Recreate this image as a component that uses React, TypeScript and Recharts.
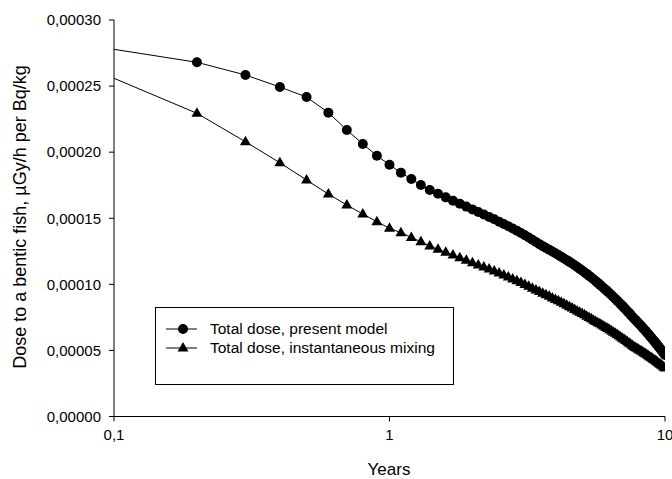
import { LineChart, Line, XAxis, YAxis, Label } from 'recharts';

// time points (years)
const YEARS = [
  0.1, 0.2, 0.3, 0.4, 0.5, 0.6, 0.7, 0.8, 0.9, 1.0,
  1.1, 1.2, 1.3, 1.4, 1.5, 1.6, 1.7, 1.8, 1.9, 2.0,
  2.1, 2.2, 2.3, 2.4, 2.5, 2.6, 2.7, 2.8, 2.9, 3.0,
  3.1, 3.2, 3.3, 3.4, 3.5, 3.6, 3.7, 3.8, 3.9, 4.0,
  4.1, 4.2, 4.3, 4.4, 4.5, 4.6, 4.7, 4.8, 4.9, 5.0,
  5.1, 5.2, 5.3, 5.4, 5.5, 5.6, 5.7, 5.8, 5.9, 6.0,
  6.1, 6.2, 6.3, 6.4, 6.5, 6.6, 6.7, 6.8, 6.9, 7.0,
  7.1, 7.2, 7.3, 7.4, 7.5, 7.6, 7.7, 7.8, 7.9, 8.0,
  8.1, 8.2, 8.3, 8.4, 8.5, 8.6, 8.7, 8.8, 8.9, 9.0,
  9.1, 9.2, 9.3, 9.4, 9.5, 9.6, 9.7, 9.8, 9.9, 10.0,
];

// dose values in units of 1e-5 µGy/h per Bq/kg
const PRESENT_MODEL = [
  27.78, 26.80, 25.84, 24.93, 24.17, 22.99, 21.68, 20.62, 19.73, 19.05,
  18.45, 17.97, 17.52, 17.14, 16.85, 16.58, 16.33, 16.10, 15.88, 15.67,
  15.47, 15.28, 15.10, 14.92, 14.74, 14.56, 14.39, 14.22, 14.05, 13.88,
  13.71, 13.54, 13.37, 13.20, 13.04, 12.89, 12.75, 12.61, 12.48, 12.35,
  12.22, 12.09, 11.96, 11.83, 11.70, 11.57, 11.44, 11.31, 11.18, 11.05,
  10.92, 10.79, 10.65, 10.52, 10.38, 10.25, 10.11, 9.98, 9.84, 9.71,
  9.58, 9.44, 9.31, 9.17, 9.04, 8.91, 8.77, 8.64, 8.50, 8.37,
  8.24, 8.10, 7.97, 7.84, 7.70, 7.57, 7.44, 7.32, 7.20, 7.08,
  6.96, 6.84, 6.72, 6.60, 6.48, 6.35, 6.23, 6.11, 5.99, 5.87,
  5.75, 5.63, 5.50, 5.38, 5.26, 5.14, 5.02, 4.90, 4.77, 4.65,
];

const INSTANT_MIXING = [
  25.59, 22.94, 20.79, 19.20, 17.89, 16.83, 16.00, 15.32, 14.74, 14.24,
  13.91, 13.55, 13.22, 12.90, 12.65, 12.42, 12.21, 12.01, 11.82, 11.64,
  11.47, 11.31, 11.16, 11.01, 10.86, 10.71, 10.56, 10.41, 10.27, 10.13,
  9.99, 9.85, 9.71, 9.57, 9.45, 9.33, 9.21, 9.09, 8.97, 8.86,
  8.75, 8.64, 8.53, 8.42, 8.31, 8.20, 8.09, 7.99, 7.89, 7.79,
  7.69, 7.59, 7.49, 7.39, 7.29, 7.19, 7.10, 7.01, 6.92, 6.83,
  6.74, 6.65, 6.56, 6.47, 6.38, 6.29, 6.20, 6.11, 6.02, 5.93,
  5.84, 5.75, 5.66, 5.57, 5.48, 5.39, 5.30, 5.23, 5.16, 5.09,
  5.02, 4.95, 4.88, 4.81, 4.74, 4.67, 4.60, 4.53, 4.46, 4.39,
  4.32, 4.25, 4.18, 4.10, 4.03, 3.96, 3.89, 3.82, 3.74, 3.67,
];

const SERIES_NAMES = ['Total dose, present model', 'Total dose, instantaneous mixing'];
const X_TICKS = [0.1, 1, 10];
const Y_TICKS = [0, 0.00005, 0.0001, 0.00015, 0.0002, 0.00025, 0.0003];
const UNIT = 1e-5;

const data = YEARS.map((t, i) => ({
  t,
  present: PRESENT_MODEL[i] * UNIT,
  instant: INSTANT_MIXING[i] * UNIT,
}));

const FONT = '"Liberation Sans", Arial, sans-serif';

// the first point (t = 0.1) has no marker in the original
function CircleDot(props: any) {
  const { cx, cy, index } = props;
  if (index === 0 || cx == null || cy == null) return <g key={`c-${index}`} />;
  return <circle key={`c-${index}`} cx={cx} cy={cy} r={5} fill="#000" />;
}

function TriangleDot(props: any) {
  const { cx, cy, index } = props;
  if (index === 0 || cx == null || cy == null) return <g key={`t-${index}`} />;
  return (
    <path
      key={`t-${index}`}
      d={`M${cx},${cy - 6}L${cx + 5.5},${cy + 3.5}L${cx - 5.5},${cy + 3.5}Z`}
      fill="#000"
    />
  );
}

function LegendBox() {
  return (
    <div
      style={{
        position: 'absolute',
        left: 155,
        top: 307,
        width: 297,
        height: 76,
        border: '1px solid #000',
        background: '#fff',
        fontFamily: FONT,
        fontSize: 15.5,
      }}
    >
      {SERIES_NAMES.map((name, i) => (
        <div
          key={name}
          style={{ position: 'absolute', left: 10, top: 11 + i * 19, height: 19, display: 'flex', alignItems: 'center' }}
        >
          <svg width={32} height={14} style={{ marginRight: 12 }}>
            <line x1={0} y1={7} x2={31} y2={7} stroke="#000" strokeWidth={1} />
            {i === 0 ? (
              <circle cx={17} cy={7} r={5} fill="#000" />
            ) : (
              <path d="M17,1L22.5,10.5L11.5,10.5Z" fill="#000" />
            )}
          </svg>
          <span style={{ whiteSpace: 'nowrap' }}>{name}</span>
        </div>
      ))}
    </div>
  );
}

const fmtY = (v: number) => v.toFixed(5).replace('.', ',');
const fmtX = (v: number) => String(v).replace('.', ',');

export default function App() {
  return (
    <div style={{ position: 'relative', width: 672, height: 479, background: '#fff' }}>
      <style>{'body{margin:0}'}</style>
      <LineChart
        width={672}
        height={479}
        data={data}
        margin={{ top: 20, right: 7, left: 0, bottom: 0 }}
      >
        <XAxis
          dataKey="t"
          type="number"
          scale="log"
          domain={[0.1, 10]}
          ticks={X_TICKS}
          interval={0}
          allowDataOverflow
          tickFormatter={fmtX}
          height={62.5}
          tickSize={5}
          tickMargin={8}
          stroke="#000"
          tick={{ fill: '#000', fontSize: 15, fontFamily: FONT }}
        >
          <Label
            content={() => (
              <text x={389} y={475} textAnchor="middle" fontSize={17} fontFamily={FONT} fill="#000">
                Years
              </text>
            )}
          />
        </XAxis>
        <YAxis
          type="number"
          domain={[0, 0.0003]}
          ticks={Y_TICKS}
          interval={0}
          tickFormatter={fmtY}
          width={114}
          tickSize={5}
          tickMargin={8}
          stroke="#000"
          tick={{ fill: '#000', fontSize: 15, fontFamily: FONT }}
        >
          <Label
            content={() => (
              <text
                x={20}
                y={217}
                transform="rotate(-90 20 217)"
                textAnchor="middle"
                dominantBaseline="central"
                fontSize={18}
                fontFamily={FONT}
                fill="#000"
              >
                Dose to a bentic fish, µGy/h per Bq/kg
              </text>
            )}
          />
        </YAxis>
        <Line
          dataKey="present"
          type="linear"
          stroke="#000"
          strokeWidth={1}
          dot={CircleDot}
          activeDot={false}
          isAnimationActive={false}
        />
        <Line
          dataKey="instant"
          type="linear"
          stroke="#000"
          strokeWidth={1}
          dot={TriangleDot}
          activeDot={false}
          isAnimationActive={false}
        />
      </LineChart>
      <LegendBox />
    </div>
  );
}
